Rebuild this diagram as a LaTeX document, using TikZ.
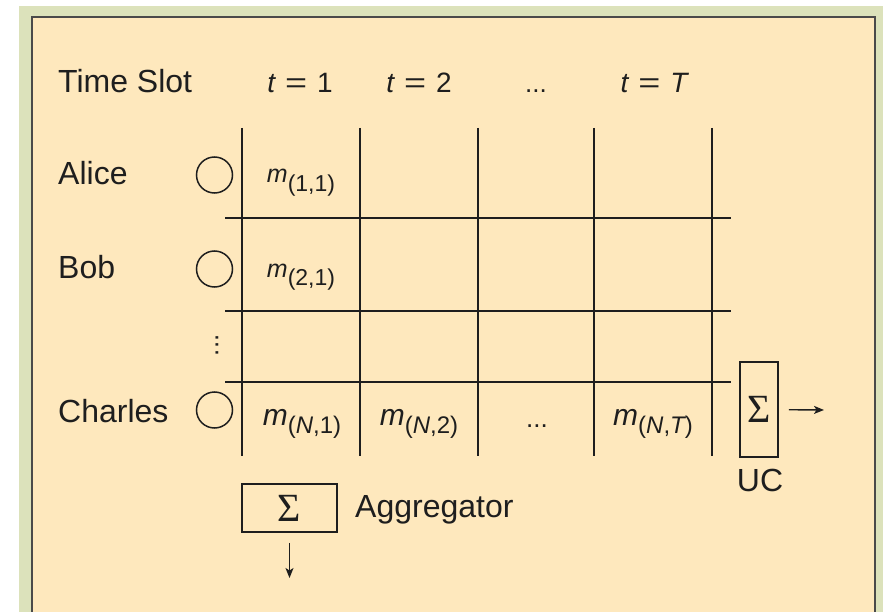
\documentclass[tikz,border=0pt]{standalone}
\usepackage{fontspec}
\usepackage{graphicx}
\setmainfont{Liberation Sans}
\newfontfamily\sigmafont{Liberation Serif}
\usetikzlibrary{arrows.meta}
\definecolor{peach}{HTML}{FEE8BD}
\definecolor{sage}{HTML}{DCE2BB}
\definecolor{framegray}{HTML}{4A4A4A}
\definecolor{ink}{HTML}{1E1E1E}
\newcommand{\bigtxt}{\fontsize{32}{36}\selectfont}
\newcommand{\tlab}[1]{{\fontsize{28}{32}\selectfont{\itshape t}\hspace{10pt}\scalebox{1.35}[1]{=}\hspace{10pt}#1}}
\newcommand{\msubA}[1]{{\fontsize{25}{28}\selectfont\itshape m}\raisebox{-9pt}{\fontsize{23}{26}\selectfont(#1)}}
\newcommand{\msubB}[1]{{\fontsize{30}{32}\selectfont\itshape m}\raisebox{-8pt}{\fontsize{24}{26}\selectfont(#1)}}
\begin{document}
\begin{tikzpicture}[x=1pt,y=-1pt,
  gridline/.style={line width=2pt, draw=ink},
  lbl/.style={anchor=base west, inner sep=0pt, text=ink, font=\bigtxt},
  cell/.style={anchor=base, inner sep=0pt, text=ink},
  user/.style={circle, draw=ink, line width=1.5pt, minimum size=36pt, inner sep=0pt},
  sumbox/.style={draw=ink, line width=1.6pt, inner sep=0pt, text=ink, font=\sigmafont\fontsize{40}{40}\selectfont},
  arr/.style={draw=ink, line width=1.4pt, -{Stealth[length=10pt,width=8pt,inset=2.5pt]}}]
\useasboundingbox (0,0) rectangle (883,612);
% backgrounds
\fill[white] (0,0) rectangle (883,612);
\fill[sage] (19,6) rectangle (883,612);
\fill[peach] (32,17) rectangle (875,612);
\draw[framegray, line width=2.2pt] (32,613) -- (32,17) -- (875,17) -- (875,613);
% grid
\foreach \x in {242,360,478,594,712} \draw[gridline] (\x,128) -- (\x,456);
\foreach \y in {218,311,382} \draw[gridline] (225,\y) -- (731,\y);
% header
\node[lbl] (ts) at (58,93) {Time Slot};
\node[cell] (t1) at (300,93) {\tlab{1}};
\node[cell] (t2) at (419,93) {\tlab{2}};
\node[cell, font=\fontsize{26}{28}\selectfont] (tdots) at (536,93) {...};
\node[cell] (tT) at (654,93) {\tlab{{\itshape T}}};
% users
\node[lbl] (alice) at (58,185) {Alice};
\node[lbl] (bob) at (58,279) {Bob};
\node[lbl] (charles) at (58,422) {Charles};
\node[user] (ca) at (214.5,175) {};
\node[user] (cb) at (214.5,269) {};
\node[user] (cc) at (214.5,410) {};
\node[cell, font=\fontsize{26}{28}\selectfont] (vdots) at (217,356) {\rotatebox{90}{...}};
% cells
\node[cell] (m11) at (301,183) {\msubA{1,1}};
\node[cell] (m21) at (301,277) {\msubA{2,1}};
\node[cell] (mN1) at (302,425) {\msubB{{\itshape N},1}};
\node[cell] (mN2) at (419,425) {\msubB{{\itshape N},2}};
\node[cell, font=\fontsize{26}{28}\selectfont] (mdots) at (537,427) {...};
\node[cell] (mNT) at (653,425) {\msubB{{\itshape N},{\itshape T}}};
% UC
\node[sumbox, minimum width=38pt, minimum height=95pt] (ucbox) at (759,409.5) {Σ};
\node[lbl, anchor=base] (uc) at (760,491) {UC};
\coordinate (ucout) at (824,410);
\draw[arr, shorten <=10pt] (ucbox) -- (ucout);
% Aggregator
\node[sumbox, minimum width=95pt, minimum height=48pt] (aggbox) at (289.5,508) {Σ};
\node[lbl] (agg) at (355,517) {Aggregator};
\coordinate (aggout) at (289.5,578);
\draw[arr, shorten <=10pt] (aggbox) -- (aggout);
\end{tikzpicture}
\end{document}
